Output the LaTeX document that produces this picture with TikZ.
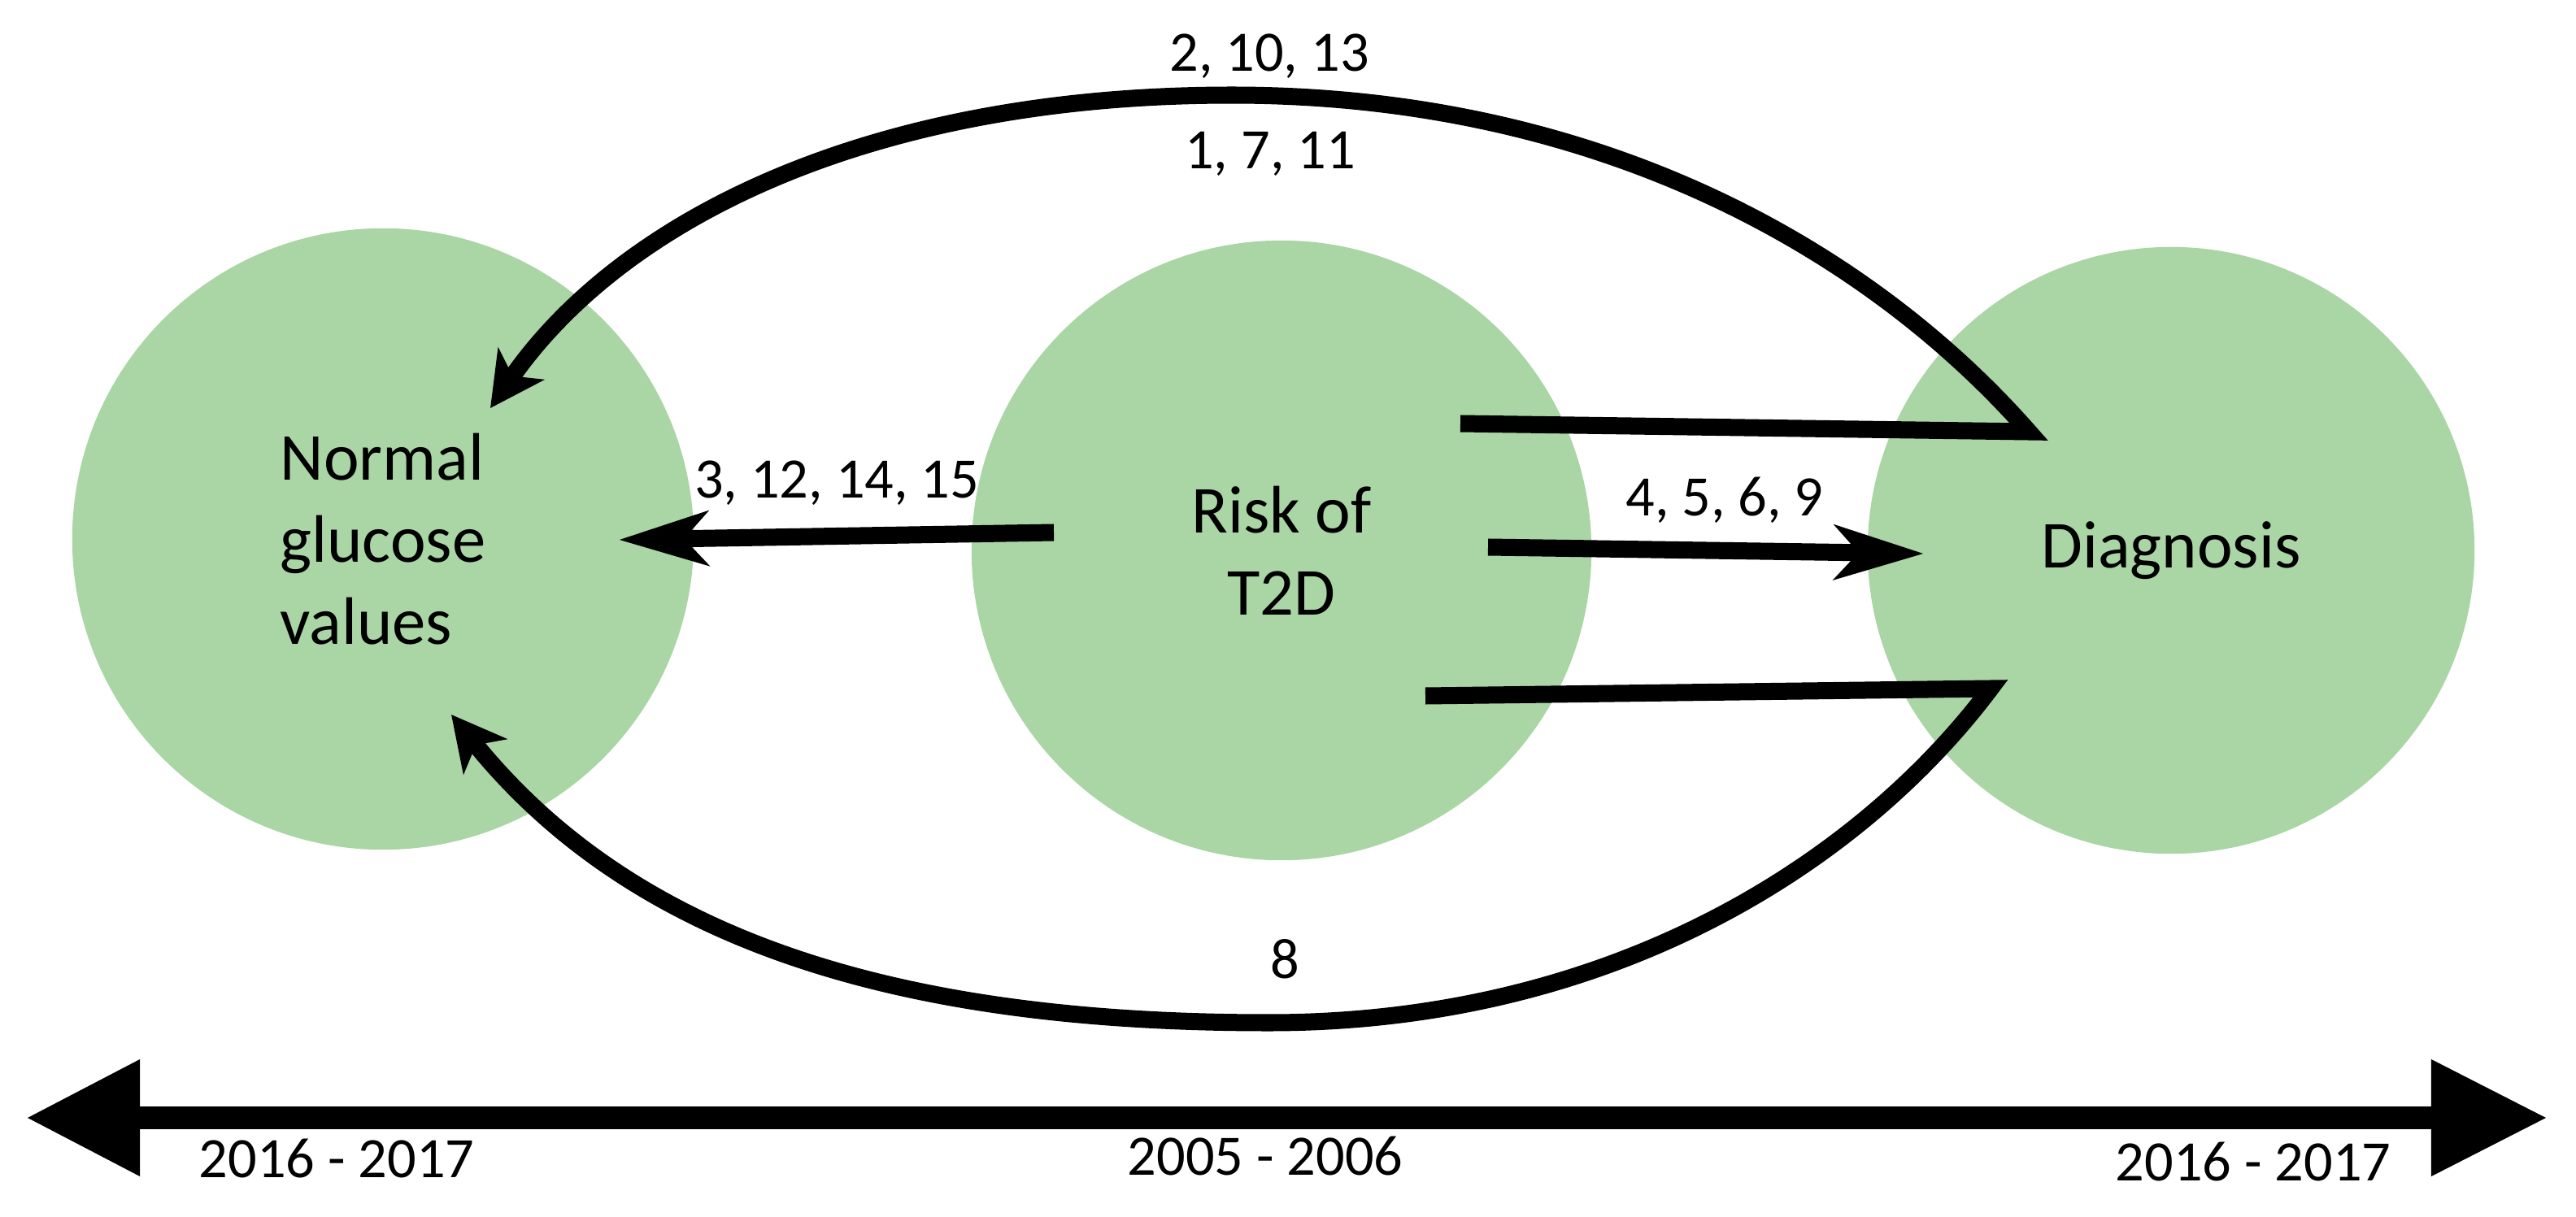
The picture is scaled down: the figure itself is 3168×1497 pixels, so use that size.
\documentclass[tikz,border=0pt]{standalone}
\usepackage{fontspec}
\setmainfont{Carlito}
\usetikzlibrary{arrows.meta}
\definecolor{circgreen}{HTML}{AAD5A5}
\begin{document}
\begin{tikzpicture}[x=0.01cm, y=-0.01cm,
  circ/.style={circle, fill=circgreen, draw=none, inner sep=0pt, font=\fontsize{23.5}{28.7}\selectfont},
  lbl/.style={anchor=base, inner sep=0pt, font=\fontsize{20}{24}\selectfont},
  conn/.style={line width=0.21cm, draw, color=black},
  straighthead/.style={-{Stealth[length=1.09cm,width=0.66cm,inset=0.29cm]}},
  curvehead/.style={-{Stealth[length=0.66cm,width=0.68cm,inset=0.18cm]}},
  timeline/.style={line width=0.28cm, {Triangle[length=1.38cm,width=1.44cm,line width=0pt,fill=black]}-{Triangle[length=1.41cm,width=1.44cm,line width=0pt,fill=black]}}
]
\useasboundingbox (0,0) rectangle (3168,1497);
% circles
\node[circ, minimum size=7.64cm, align=left] (ngv) at (471,663) {Normal\\glucose\\values};
\node[circ, minimum size=7.62cm, align=center] (risk) at (1576,677) {Risk of\\T2D};
\node[circ, minimum size=7.46cm] (diag) at (2670,677) {Diagnosis};
% connector points
\coordinate (topS) at (1796,521);
\coordinate (topC) at (2495,531);
\coordinate (topA) at (1515,117);
\coordinate (topE) at (603,502);
\coordinate (botS) at (1753,856);
\coordinate (botC) at (2448,847);
\coordinate (botA) at (1560,1258);
\coordinate (botE) at (555,879);
\coordinate (midLS) at (1296,655);
\coordinate (midLE) at (761,664);
\coordinate (midRS) at (1830,673);
\coordinate (midRE) at (2366,681);
% connectors
\draw[conn, curvehead] (topS) -- (topC) .. controls (2297,306) and (1965,117) .. (topA) .. controls (1065,117) and (762.6,272.4) .. (topE);
\draw[conn, curvehead] (botS) -- (botC) .. controls (2292,1055) and (1990,1258) .. (botA) .. controls (1110,1258) and (782,1160) .. (botE);
\draw[conn, straighthead] (midLS) -- (midLE);
\draw[conn, straighthead] (midRS) -- (midRE);
% labels
\node[lbl] (l1) at (1561,88) {2, 10, 13};
\node[lbl] (l2) at (1562,208) {1, 7, 11};
\node[lbl] (l3) at (1029,612) {3, 12, 14, 15};
\node[lbl] (l4) at (2121,634) {4, 5, 6, 9};
\node[lbl] (l5) at (1580,1203) {8};
% timeline
\coordinate (tlL) at (34,1375);
\coordinate (tlR) at (3131,1375);
\draw[timeline] (tlL) -- (tlR);
\node[lbl] (y1) at (414,1448) {2016 - 2017};
\node[lbl] (y2) at (1556,1445) {2005 - 2006};
\node[lbl] (y3) at (2771,1452) {2016 - 2017};
\end{tikzpicture}
\end{document}
